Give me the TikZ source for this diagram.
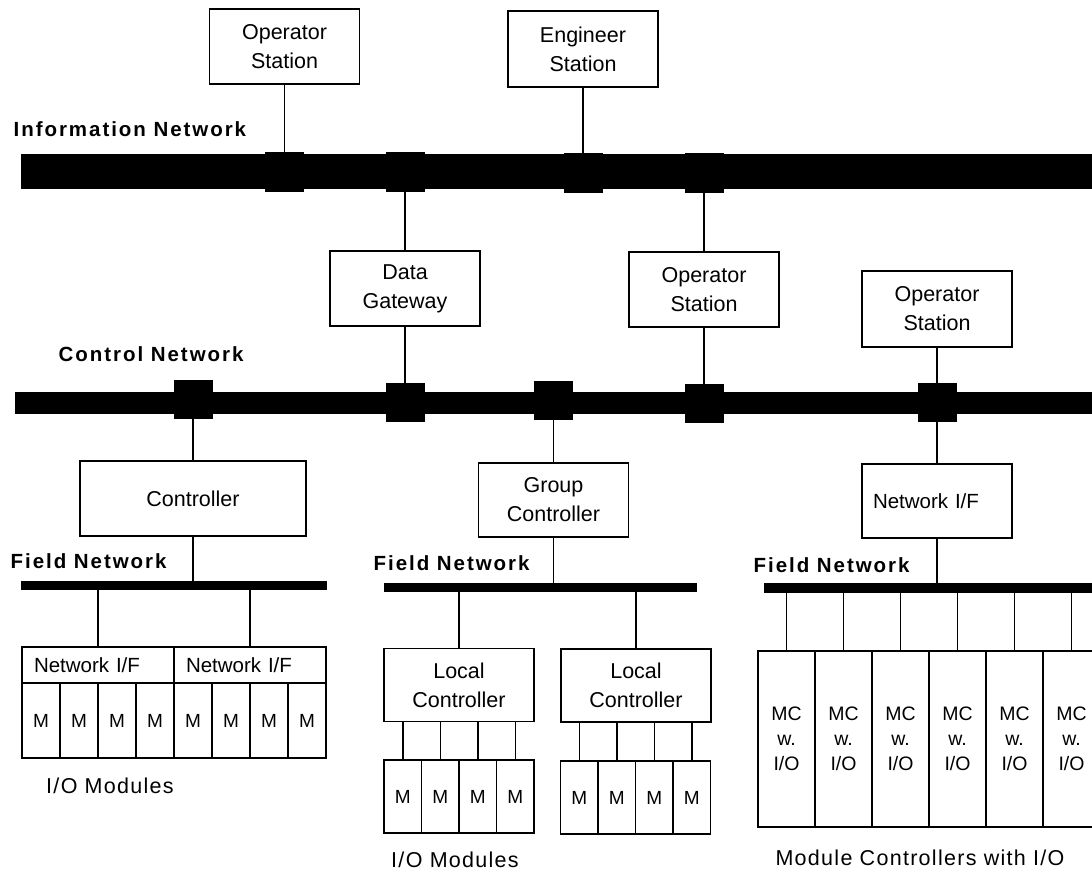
\documentclass[tikz,border=0pt]{standalone}
\usepackage{fontspec}
\setmainfont{Liberation Sans}
\newfontfamily\netfont[LetterSpace=9.5]{Liberation Sans}
\newfontfamily\capfont[LetterSpace=6]{Liberation Sans}

\begin{document}
\begin{tikzpicture}[x=1pt, y=-1pt, line width=1.4pt,
  stationbox/.style={draw, align=center, minimum width=150, minimum height=75, inner sep=0, font=\fontsize{21.5}{29}\selectfont},
  ctrlbox/.style={stationbox, minimum height=74},
  nifbox/.style={draw, align=left, minimum height=36, inner xsep=12, inner ysep=0, text width=128, font=\fontsize{20.5}{24}\selectfont},
  bus/.style={fill, inner sep=0, outer sep=0},
  busjoint/.style={fill, inner sep=0, outer sep=0, minimum width=39, minimum height=39},
  modcell/.style={draw, inner sep=0, minimum width=38, minimum height=75, font=\fontsize{19}{22}\selectfont},
  mccell/.style={draw, inner sep=0, align=center, minimum width=57, minimum height=176, font=\fontsize{19.5}{25}\selectfont},
  netlabel/.style={anchor=base west, inner sep=0, font=\netfont\bfseries\fontsize{20.5}{26}\selectfont},
  caption/.style={anchor=base, inner sep=0, font=\capfont\fontsize{21.5}{26}\selectfont}]
\useasboundingbox (0,0) rectangle (1092,872);

\node[stationbox] (os1) at (284.5,46.5){Operator\\Station};
\node[stationbox, minimum height=76] (es) at (583,49){Engineer\\Station};
\node[netlabel] (infolbl) at (13,137){Information Network};
\node[bus, minimum width=1078, minimum height=35, anchor=west] (infonet) at (21,171.5){};
\node[busjoint, minimum height=40] (ij1) at (284.5,172){};
\node[busjoint, minimum height=40] (ij2) at (405,172){};
\node[busjoint, minimum height=40] (ij3) at (583,172.5){};
\node[busjoint, minimum height=40] (ij4) at (704,172.5){};
\draw[line width=1.5pt](os1) -- (ij1);
\draw[line width=1.5pt](es) -- (ij3);

\node[stationbox] (dg) at (405,288.5){Data\\Gateway};
\node[stationbox] (os2) at (704,289.5){Operator\\Station};
\node[stationbox, minimum height=76] (os3) at (937,309){Operator\\Station};
\draw[line width=1.5pt](ij2) -- (dg);
\draw[line width=1.5pt](ij4) -- (os2);

\node[netlabel] (ctrllbl) at (58,361){Control Network};
\node[bus, minimum width=1085, minimum height=22, anchor=west] (ctrlnet) at (14.5,403){};
\node[busjoint] (cj1) at (193,399){};
\node[busjoint] (cj2) at (405,402.5){};
\node[busjoint] (cj3) at (553.5,400){};
\node[busjoint] (cj4) at (704,403){};
\node[busjoint] (cj5) at (937,402){};
\draw[line width=1.5pt](dg) -- (cj2);
\draw[line width=1.5pt](os2) -- (cj4);
\draw[line width=1.5pt](os3) -- (cj5);

\node[ctrlbox, minimum width=226, minimum height=75] (ctrl) at (193,498.5){Controller};
\node[ctrlbox] (gc) at (553.5,500){Group\\Controller};
\node[nifbox, minimum height=74, inner xsep=11] (nif3) at (937,501){Network I/F};
\draw[line width=1.5pt](cj1) -- (ctrl);
\draw[line width=1.5pt](cj3) -- (gc);
\draw[line width=1.5pt](cj5) -- (nif3);

\node[netlabel] (fl1) at (10,568){Field Network};
\node[netlabel] (fl2) at (373,570){Field Network};
\node[netlabel] (fl3) at (753,572){Field Network};
\node[bus, minimum width=306, minimum height=9, anchor=west] (fn1) at (21,585.5){};
\node[bus, minimum width=313, minimum height=9, anchor=west] (fn2) at (384,587.5){};
\node[bus, minimum width=335, minimum height=10, anchor=west] (fn3) at (764,588){};
\draw[line width=1.5pt](ctrl) -- (ctrl |- fn1.north);
\draw[line width=1.5pt](gc) -- (gc |- fn2.north);
\draw[line width=1.5pt](nif3) -- (nif3 |- fn3.north);

\node[nifbox, text width=128] (nif1) at (98,665){Network I/F};
\node[nifbox, text width=128] (nif2) at (250,665){Network I/F};
\draw[line width=1.5pt](nif1) -- (nif1 |- fn1.south);
\draw[line width=1.5pt](nif2) -- (nif2 |- fn1.south);
\node[modcell] (m1) at (41,720.5){M};
\node[modcell] (m2) at (79,720.5){M};
\node[modcell] (m3) at (117,720.5){M};
\node[modcell] (m4) at (155,720.5){M};
\node[modcell] (m5) at (193,720.5){M};
\node[modcell] (m6) at (231,720.5){M};
\node[modcell] (m7) at (269,720.5){M};
\node[modcell] (m8) at (307,720.5){M};
\node[caption] (io1) at (110,793){I/O Modules};

\node[ctrlbox, minimum height=73] (lc1) at (459,685){Local\\Controller};
\node[ctrlbox, minimum height=73] (lc2) at (636,685.5){Local\\Controller};
\draw[line width=1.5pt](lc1) -- (lc1 |- fn2.south);
\draw[line width=1.5pt](lc2) -- (lc2 |- fn2.south);
\node[modcell, minimum width=37.5, minimum height=73] (m9) at (402.75,796.5){M};
\node[modcell, minimum width=37.5, minimum height=73] (m10) at (440.25,796.5){M};
\node[modcell, minimum width=37.5, minimum height=73] (m11) at (477.75,796.5){M};
\node[modcell, minimum width=37.5, minimum height=73] (m12) at (515.25,796.5){M};
\node[modcell, minimum width=37.5, minimum height=73] (m13) at (579.25,797.5){M};
\node[modcell, minimum width=37.5, minimum height=73] (m14) at (616.75,797.5){M};
\node[modcell, minimum width=37.5, minimum height=73] (m15) at (654.25,797.5){M};
\node[modcell, minimum width=37.5, minimum height=73] (m16) at (691.75,797.5){M};
\draw[line width=1.5pt](m9) -- (m9 |- lc1.south);
\draw[line width=1.5pt](m10) -- (m10 |- lc1.south);
\draw[line width=1.5pt](m11) -- (m11 |- lc1.south);
\draw[line width=1.5pt](m12) -- (m12 |- lc1.south);
\draw[line width=1.5pt](m13) -- (m13 |- lc2.south);
\draw[line width=1.5pt](m14) -- (m14 |- lc2.south);
\draw[line width=1.5pt](m15) -- (m15 |- lc2.south);
\draw[line width=1.5pt](m16) -- (m16 |- lc2.south);
\node[caption] (io2) at (455,867){I/O Modules};

\node[mccell] (mc1) at (786.5,739){MC\\w.\\I/O};
\node[mccell] (mc2) at (843.5,739){MC\\w.\\I/O};
\node[mccell] (mc3) at (900.5,739){MC\\w.\\I/O};
\node[mccell] (mc4) at (957.5,739){MC\\w.\\I/O};
\node[mccell] (mc5) at (1014.5,739){MC\\w.\\I/O};
\node[mccell] (mc6) at (1071.5,739){MC\\w.\\I/O};
\draw[line width=1.5pt](mc1) -- (mc1 |- fn3.south);
\draw[line width=1.5pt](mc2) -- (mc2 |- fn3.south);
\draw[line width=1.5pt](mc3) -- (mc3 |- fn3.south);
\draw[line width=1.5pt](mc4) -- (mc4 |- fn3.south);
\draw[line width=1.5pt](mc5) -- (mc5 |- fn3.south);
\draw[line width=1.5pt](mc6) -- (mc6 |- fn3.south);
\node[caption] (mclbl) at (920,865){Module Controllers with I/O};

\end{tikzpicture}
\end{document}
